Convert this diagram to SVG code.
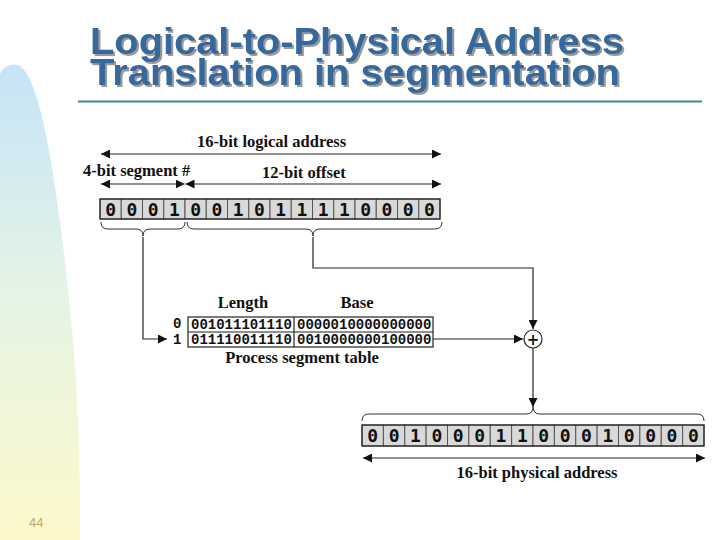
<svg xmlns="http://www.w3.org/2000/svg" width="720" height="540" viewBox="0 0 720 540">
<style>
.title{font-family:"Liberation Sans",Arial,sans-serif;font-weight:bold;font-size:36px;fill:#36679c;}
.lbl{font-family:"Liberation Serif","Times New Roman",serif;font-weight:bold;font-size:16.5px;fill:#111;}
.bit{font-family:"DejaVu Sans Mono",monospace;font-weight:bold;font-size:18px;fill:#111;text-anchor:middle;}
.tbl{font-family:"Liberation Mono","Courier New",monospace;font-weight:bold;font-size:14px;fill:#111;}
.cell{fill:#d9d9d9;stroke:#555;stroke-width:1;}
.frame{fill:none;stroke:#222;stroke-width:1.2;}
.ln{fill:none;stroke:#222;stroke-width:1.2;}
.brace{fill:none;stroke:#333;stroke-width:1;}
</style>
<defs>
<linearGradient id="side" x1="0" y1="0" x2="0" y2="1">
<stop offset="0" stop-color="#c6e4f7"/>
<stop offset="0.5" stop-color="#e6f4e4"/>
<stop offset="1" stop-color="#fdf9cb"/>
</linearGradient>
<filter id="shadow" x="-5%" y="-20%" width="110%" height="140%">
<feOffset in="SourceAlpha" dx="2" dy="2" result="off"/>
<feFlood flood-color="#9a9a9a"/>
<feComposite in2="off" operator="in" result="sh"/>
<feMerge><feMergeNode in="sh"/><feMergeNode in="SourceGraphic"/></feMerge>
</filter>
<marker id="ah" markerUnits="userSpaceOnUse" markerWidth="10" markerHeight="9" refX="9" refY="4.5" orient="auto-start-reverse">
<path d="M0,0 L9,4.5 L0,9 Z" fill="#111"/>
</marker>
</defs>
<rect width="720" height="540" fill="#fff"/>
<path d="M0,74 C3,67 10,63 18,65 C32,70 44,115 54,180 C64,250 73,320 77,400 C80,450 80,500 80,540 L0,540 Z" fill="url(#side)"/>
<text x="29" y="527" font-family="Liberation Sans,Arial,sans-serif" font-size="13" fill="#c8a674">44</text>

<g id="title" filter="url(#shadow)">
<text class="title" x="90" y="54" textLength="534" lengthAdjust="spacingAndGlyphs">Logical-to-Physical Address</text>
<text class="title" x="90" y="85" textLength="530" lengthAdjust="spacingAndGlyphs">Translation in segmentation</text>
</g>
<line x1="78" y1="101.5" x2="702" y2="101.5" stroke="#3d8b8b" stroke-width="2"/>

<g id="logical-labels">
<text class="lbl" x="197" y="147">16-bit logical address</text>
<text class="lbl" x="83" y="176">4-bit segment #</text>
<text class="lbl" x="262" y="178">12-bit offset</text>
</g>

<g id="logical-address">
<rect class="cell" x="100" y="199" width="21.25" height="20"/>
<rect class="cell" x="121.25" y="199" width="21.25" height="20"/>
<rect class="cell" x="142.5" y="199" width="21.25" height="20"/>
<rect class="cell" x="163.75" y="199" width="21.25" height="20"/>
<rect class="cell" x="185" y="199" width="21.25" height="20"/>
<rect class="cell" x="206.25" y="199" width="21.25" height="20"/>
<rect class="cell" x="227.5" y="199" width="21.25" height="20"/>
<rect class="cell" x="248.75" y="199" width="21.25" height="20"/>
<rect class="cell" x="270" y="199" width="21.25" height="20"/>
<rect class="cell" x="291.25" y="199" width="21.25" height="20"/>
<rect class="cell" x="312.5" y="199" width="21.25" height="20"/>
<rect class="cell" x="333.75" y="199" width="21.25" height="20"/>
<rect class="cell" x="355" y="199" width="21.25" height="20"/>
<rect class="cell" x="376.25" y="199" width="21.25" height="20"/>
<rect class="cell" x="397.5" y="199" width="21.25" height="20"/>
<rect class="cell" x="418.75" y="199" width="21.25" height="20"/>
<rect class="frame" x="100" y="199" width="340" height="20"/>
<text class="bit" x="110.6 131.9 153.1 174.4 195.6 216.9 238.1 259.4 280.6 301.9 323.1 344.4 365.6 386.9 408.1 429.4" y="215.5">0001001011110000</text>
</g>

<g id="segment-table">
<text class="lbl" x="243" y="308" text-anchor="middle">Length</text>
<text class="lbl" x="357" y="308" text-anchor="middle">Base</text>
<text class="tbl" x="173" y="328" font-size="12">0</text>
<text class="tbl" x="173" y="344" font-size="12">1</text>
<rect x="188" y="317" width="245" height="30" fill="#fff" stroke="#222" stroke-width="1.2"/>
<line x1="188" y1="332" x2="433" y2="332" stroke="#222" stroke-width="1.2"/>
<line x1="294" y1="317" x2="294" y2="347" stroke="#222" stroke-width="1.2"/>
<text class="tbl" x="191" y="328.5">001011101110</text>
<text class="tbl" x="297" y="328.5">0000010000000000</text>
<text class="tbl" x="191" y="344">011110011110</text>
<text class="tbl" x="297" y="344">0010000000100000</text>
<text class="lbl" x="302" y="363" text-anchor="middle">Process segment table</text>
</g>

<g id="adder">
<circle cx="533" cy="339" r="9" fill="#fff" stroke="#222" stroke-width="1.2"/>
<text x="533" y="344.5" text-anchor="middle" font-family="DejaVu Sans,sans-serif" font-weight="bold" font-size="15" fill="#111">+</text>
</g>

<g id="physical-address">
<rect class="cell" x="362" y="425" width="21.375" height="21"/>
<rect class="cell" x="383.375" y="425" width="21.375" height="21"/>
<rect class="cell" x="404.75" y="425" width="21.375" height="21"/>
<rect class="cell" x="426.125" y="425" width="21.375" height="21"/>
<rect class="cell" x="447.5" y="425" width="21.375" height="21"/>
<rect class="cell" x="468.875" y="425" width="21.375" height="21"/>
<rect class="cell" x="490.25" y="425" width="21.375" height="21"/>
<rect class="cell" x="511.625" y="425" width="21.375" height="21"/>
<rect class="cell" x="533" y="425" width="21.375" height="21"/>
<rect class="cell" x="554.375" y="425" width="21.375" height="21"/>
<rect class="cell" x="575.75" y="425" width="21.375" height="21"/>
<rect class="cell" x="597.125" y="425" width="21.375" height="21"/>
<rect class="cell" x="618.5" y="425" width="21.375" height="21"/>
<rect class="cell" x="639.875" y="425" width="21.375" height="21"/>
<rect class="cell" x="661.25" y="425" width="21.375" height="21"/>
<rect class="cell" x="682.625" y="425" width="21.375" height="21"/>
<rect class="frame" x="362" y="425" width="342" height="21"/>
<text class="bit" x="372.7 394.1 415.4 436.8 458.2 479.6 500.9 522.3 543.7 565.1 586.4 607.8 629.2 650.6 671.9 693.3" y="442">0010001100010000</text>
<text class="lbl" x="537" y="478" text-anchor="middle">16-bit physical address</text>
</g>

<g id="connectors">
<line class="ln" x1="101" y1="154" x2="441" y2="154" marker-start="url(#ah)" marker-end="url(#ah)"/>
<line class="ln" x1="101" y1="184" x2="184.5" y2="184" marker-start="url(#ah)" marker-end="url(#ah)"/>
<line class="ln" x1="185.5" y1="184" x2="441" y2="184" marker-start="url(#ah)" marker-end="url(#ah)"/>
<path class="brace" d="M101,222 Q101,229 108,229 L136,229 Q143,229 143,236 Q143,229 150,229 L178,229 Q185,229 185,222"/>
<path class="brace" d="M187,222 Q187,229 194,229 L306,229 Q313,229 313,236 Q313,229 320,229 L435,229 Q442,229 442,222"/>
<polyline class="ln" points="143,237 143,339 167,339" marker-end="url(#ah)"/>
<polyline class="ln" points="313,237 313,268 533,268 533,329" marker-end="url(#ah)"/>
<line class="ln" x1="433" y1="339" x2="523" y2="339" marker-end="url(#ah)"/>
<line class="ln" x1="533" y1="348" x2="533" y2="407" marker-end="url(#ah)"/>
<path class="brace" d="M362,421 Q362,414 369,414 L526,414 Q533,414 533,407 Q533,414 540,414 L697,414 Q704,414 704,421"/>
<line class="ln" x1="363" y1="458" x2="705" y2="458" marker-start="url(#ah)" marker-end="url(#ah)"/>
</g>
</svg>
